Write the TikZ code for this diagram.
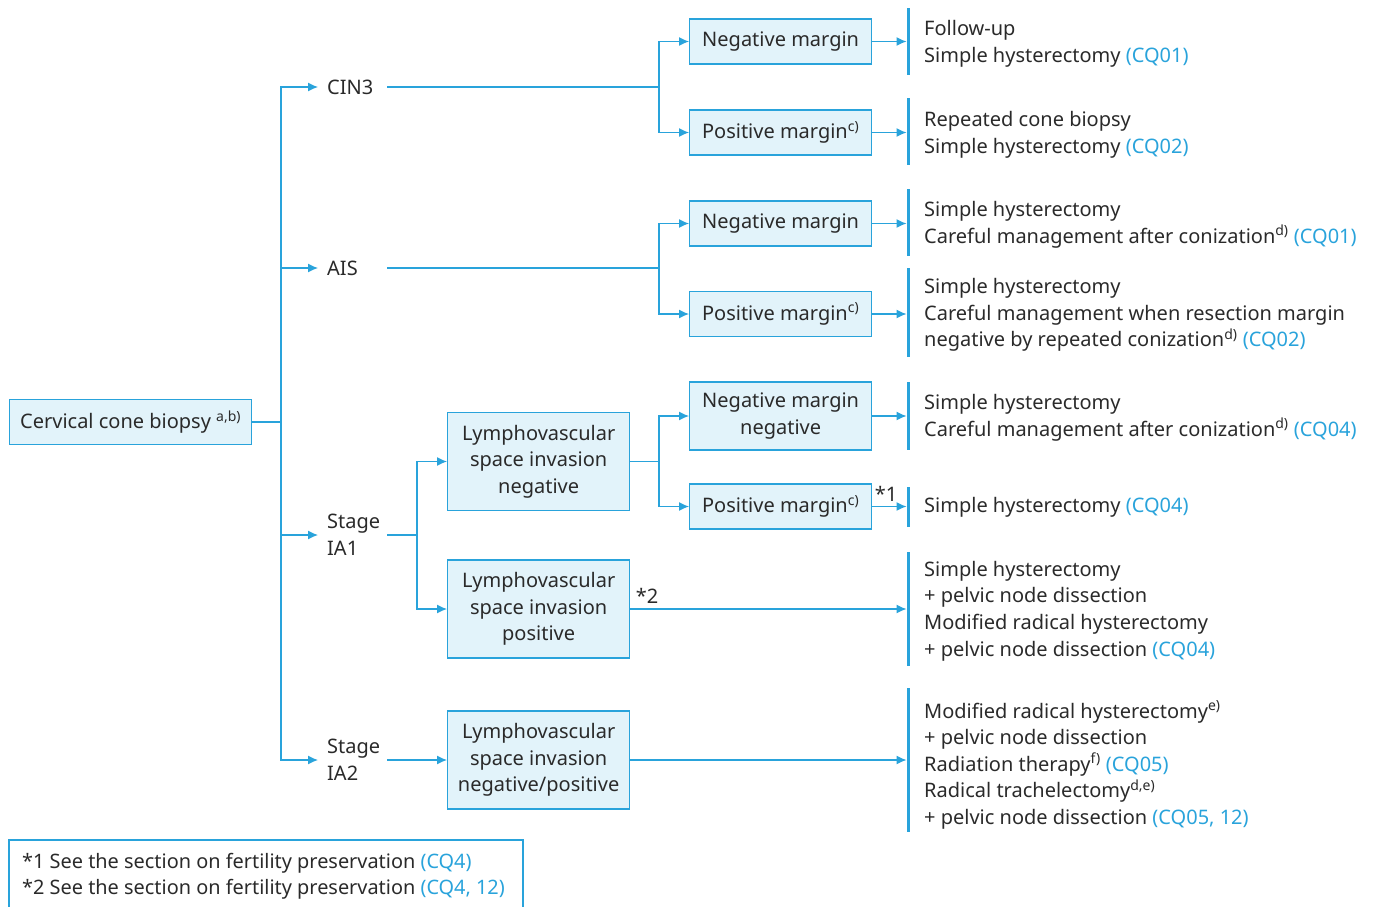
\documentclass[tikz,border=0pt]{standalone}
\usepackage{fontspec}
\setmainfont{Noto Sans}
\usetikzlibrary{arrows.meta}

\definecolor{jgblue}{HTML}{29A3DB}
\definecolor{jgfill}{HTML}{E2F3FA}
\definecolor{jgtext}{HTML}{2A2A2A}

\newcommand{\cq}[1]{\textcolor{jgblue}{#1}}
\newcommand{\sups}[1]{\textsuperscript{#1}}

\tikzset{
  every node/.style={text=jgtext, font=\fontsize{20}{26.6}\selectfont},
  box/.style={draw=jgblue, fill=jgfill, line width=1.3pt, minimum width=182,
    minimum height=45, inner sep=0pt, align=center, anchor=west},
  lbl/.style={anchor=west, inner xsep=9pt, inner ysep=0pt, text width=51, align=left},
  outc/.style={anchor=west, inner sep=0pt, align=left},
  link/.style={draw=jgblue, line width=1.2pt},
  arr/.style={link, -{Latex[length=10pt,width=9pt]}},
  bar/.style={draw=jgblue, line width=3pt},
}

\begin{document}
\begin{tikzpicture}[x=1pt,y=-1pt]
\useasboundingbox (0,0) rectangle (1377,906);

% root and first level
\node[box, minimum width=242] (root) at (9,422) {Cervical cone biopsy \sups{a,b)}};
\node[lbl] (cin3) at (318,87) {CIN3};
\node[lbl] (ais) at (318,268) {AIS};
\node[lbl] (ia1) at (318,535) {Stage\\IA1};
\node[lbl] (ia2) at (318,760) {Stage\\IA2};
\coordinate (j0) at (281,422);
\draw[link] (root) -- (j0);
\foreach \n in {cin3,ais,ia1,ia2} \draw[arr] (j0) |- (\n.west);

% lymphovascular boxes
\node[box, minimum height=98] (lvneg) at (447,461.5) {Lymphovascular\\space invasion\\negative};
\node[box, minimum height=98] (lvpos) at (447,609) {Lymphovascular\\space invasion\\positive};
\node[box, minimum height=98] (lvboth) at (447,760) {Lymphovascular\\space invasion\\negative/positive};

% margin boxes
\node[box] (neg1) at (689,41.5) {Negative margin};
\node[box] (pos1) at (689,132.5) {Positive margin\sups{c)}};
\node[box] (neg2) at (689,223.5) {Negative margin};
\node[box] (pos2) at (689,314) {Positive margin\sups{c)}};
\node[box, minimum height=68] (neg3) at (689,416) {Negative margin\\negative};
\node[box] (pos3) at (689,506.5) {Positive margin\sups{c)}};

% junctions
\coordinate (j1) at (659,87);
\coordinate (j2) at (659,268);
\coordinate (j3) at (417,535);
\coordinate (j4) at (659,461.5);
\draw[link] (cin3) -- (j1);
\draw[arr] (j1) |- (neg1.west);
\draw[arr] (j1) |- (pos1.west);
\draw[link] (ais) -- (j2);
\draw[arr] (j2) |- (neg2.west);
\draw[arr] (j2) |- (pos2.west);
\draw[link] (ia1) -- (j3);
\draw[arr] (j3) |- (lvneg.west);
\draw[arr] (j3) |- (lvpos.west);
\draw[arr] (ia2) -- (lvboth);
\draw[link] (lvneg) -- (j4);
\draw[arr] (j4) |- (neg3.west);
\draw[arr] (j4) |- (pos3.west);

% bars and arrows to outcomes
\coordinate (b) at (908,0);
\foreach \t/\e in {8/75, 98/165, 189/256, 268/357, 382/450, 487/527, 552/666, 688/832}
  \draw[bar] (908,\t) -- (908,\e);
\foreach \n in {neg1,pos1,neg2,pos2,neg3,pos3,lvpos,lvboth}
  \draw[arr, shorten >=1.5pt] (\n.east) -- (\n.east -| b);
\node (s1) at (886,494) {*1};
\node (s2) at (647,596) {*2};

% outcomes
\node[outc] (o1) at (924,43.5) {Follow-up\\Simple hysterectomy \cq{(CQ01)}};
\node[outc] (o2) at (924,134.5) {Repeated cone biopsy\\Simple hysterectomy \cq{(CQ02)}};
\node[outc] (o3) at (924,225) {Simple hysterectomy\\Careful management after conization\sups{d)} \cq{(CQ01)}};
\node[outc] (o4) at (924,315) {Simple hysterectomy\\Careful management when resection margin\\negative by repeated conization\sups{d)} \cq{(CQ02)}};
\node[outc] (o5) at (924,417.5) {Simple hysterectomy\\Careful management after conization\sups{d)} \cq{(CQ04)}};
\node[outc] (o6) at (924,507.5) {Simple hysterectomy \cq{(CQ04)}};
\node[outc] (o7) at (924,611) {Simple hysterectomy\\+ pelvic node dissection\\Modified radical hysterectomy\\+ pelvic node dissection \cq{(CQ04)}};
\node[outc] (o8) at (924,765) {Modified radical hysterectomy\sups{e)}\\+ pelvic node dissection\\Radiation therapy\sups{f)} \cq{(CQ05)}\\Radical trachelectomy\sups{d,e)}\\+ pelvic node dissection \cq{(CQ05, 12)}};

% footnotes
\draw[draw=jgblue, line width=1.3pt] (9,840) rectangle (523,930);
\node[outc, font=\fontsize{19.9}{26.3}\selectfont] (notes) at (22,876)
  {*1 See the section on fertility preservation \cq{(CQ4)}\\{}*2 See the section on fertility preservation \cq{(CQ4, 12)}};
\end{tikzpicture}
\end{document}
